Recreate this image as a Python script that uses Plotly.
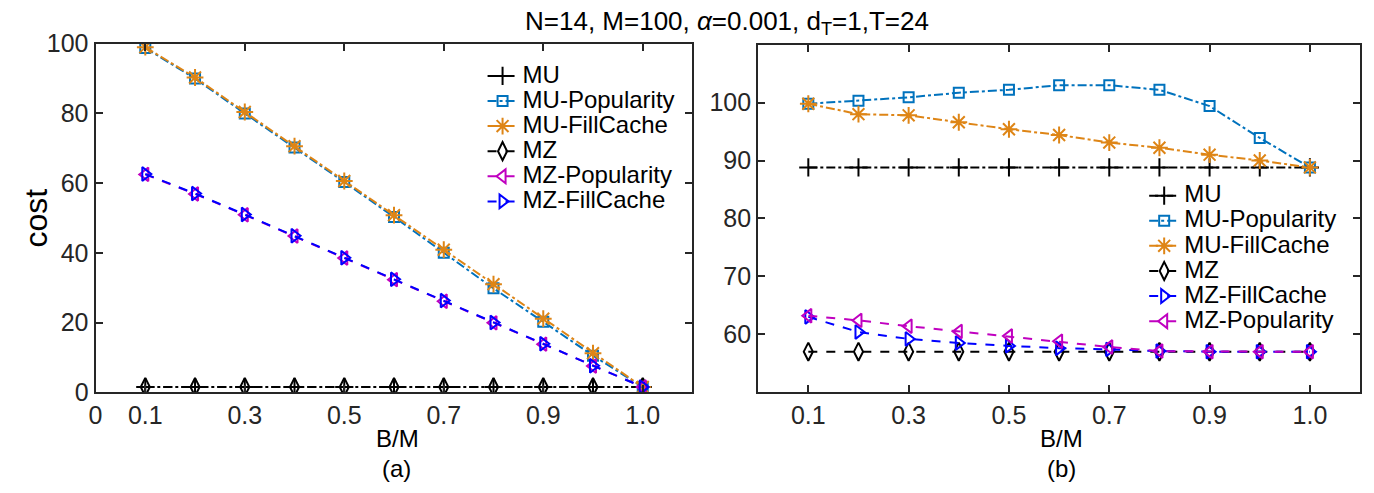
import plotly.graph_objects as go

# x positions (index along B/M) and tick labels
x_pos = [1, 2, 3, 4, 5, 6, 7, 8, 9, 10, 11]
ticks_a = [0, 1, 3, 5, 7, 9, 11]
labels_a = ["0", "0.1", "0.3", "0.5", "0.7", "0.9", "1.0"]
ticks_b = [1, 3, 5, 7, 9, 11]
labels_b = ["0.1", "0.3", "0.5", "0.7", "0.9", "1.0"]

# panel (a)
a_mu = [1.5, 1.5, 1.5, 1.5, 1.5, 1.5, 1.5, 1.5, 1.5, 1.5, 1.5]
a_mu_pop = [98.8, 90.0, 80.0, 70.2, 60.3, 50.3, 40.0, 29.8, 20.2, 10.5, 1.5]
a_mu_fill = [99.0, 90.3, 80.4, 70.6, 60.6, 50.8, 40.9, 31.0, 21.1, 11.2, 1.5]
a_mz = [1.5, 1.5, 1.5, 1.5, 1.5, 1.5, 1.5, 1.5, 1.5, 1.5, 1.5]
a_mz_pop = [62.5, 56.9, 50.9, 44.8, 38.5, 32.3, 26.1, 19.9, 13.8, 7.5, 1.5]
a_mz_fill = [62.6, 57.0, 51.0, 44.9, 38.6, 32.4, 26.3, 20.0, 13.9, 7.6, 1.5]

# panel (b)
b_mu = [88.8, 88.8, 88.8, 88.8, 88.8, 88.8, 88.8, 88.8, 88.8, 88.8, 88.8]
b_mu_pop = [99.8, 100.3, 100.9, 101.7, 102.2, 103.0, 103.0, 102.2, 99.4, 93.9, 88.8]
b_mu_fill = [99.8, 98.0, 97.8, 96.6, 95.4, 94.4, 93.1, 92.2, 91.0, 90.0, 88.8]
b_mz = [57.0, 57.0, 57.0, 57.0, 57.0, 57.0, 57.0, 57.0, 57.0, 57.0, 57.0]
b_mz_fill = [63.0, 60.4, 59.2, 58.5, 58.0, 57.6, 57.4, 57.1, 57.0, 57.0, 57.0]
b_mz_pop = [63.2, 62.4, 61.4, 60.5, 59.7, 58.8, 57.8, 57.1, 57.0, 57.0, 57.0]

FONT = "Liberation Sans, Arial, sans-serif"
BLACK = "#000000"
BLUE = "#0072BD"
ORANGE = "#DE8516"
MAGENTA = "#C000C0"
PURE_BLUE = "#0000FF"

STYLES = {
    "MU": dict(color=BLACK, dash="dashdot", symbol="cross-thin-open", size=13),
    "MU-Popularity": dict(color=BLUE, dash="dashdot", symbol="square-open", size=10),
    "MU-FillCache": dict(color=ORANGE, dash="dashdot", symbol="asterisk-open", size=14),
    "MZ": dict(color=BLACK, dash="dash", symbol="diamond-tall-open", size=13),
    "MZ-Popularity": dict(color=MAGENTA, dash="dash", symbol="triangle-left-open", size=12),
    "MZ-FillCache": dict(color=PURE_BLUE, dash="dash", symbol="triangle-right-open", size=12),
}


def add_series(fig, name, y, xaxis, yaxis, legend):
    s = STYLES[name]
    fig.add_trace(go.Scatter(
        x=x_pos, y=y, mode="lines+markers",
        name='<span style="font-size:24px">%s</span>' % name,
        xaxis=xaxis, yaxis=yaxis, legend=legend,
        line=dict(color=s["color"], dash=s["dash"], width=2),
        marker=dict(symbol=s["symbol"], size=s["size"], color=s["color"],
                    line=dict(color=s["color"], width=2)),
    ))


fig = go.Figure()
for name, y in [("MU", a_mu), ("MU-Popularity", a_mu_pop), ("MU-FillCache", a_mu_fill),
                ("MZ", a_mz), ("MZ-Popularity", a_mz_pop), ("MZ-FillCache", a_mz_fill)]:
    add_series(fig, name, y, "x", "y", "legend")
for name, y in [("MU", b_mu), ("MU-Popularity", b_mu_pop), ("MU-FillCache", b_mu_fill),
                ("MZ", b_mz), ("MZ-FillCache", b_mz_fill), ("MZ-Popularity", b_mz_pop)]:
    add_series(fig, name, y, "x2", "y2", "legend2")

axis_common = dict(
    showline=True, linecolor="#262626", linewidth=2, mirror="ticks",
    ticks="inside", ticklen=7, tickwidth=2, tickcolor="#262626",
    showgrid=False, zeroline=False,
    tickfont=dict(family=FONT, size=25, color="#262626"),
)

W, H = 1374, 493
fig.update_layout(
    width=W, height=H,
    margin=dict(l=0, r=0, t=0, b=0),
    paper_bgcolor="white", plot_bgcolor="white",
    font=dict(family=FONT, color="#000000"),
    showlegend=True,
    xaxis=dict(domain=[89 / W, 689 / W], range=[0, 12], tickvals=ticks_a,
               ticktext=labels_a, anchor="y", **axis_common),
    yaxis=dict(domain=[1 - 401 / H, 1 - 31.5 / H], range=[0, 100], dtick=20,
               anchor="x", **axis_common),
    xaxis2=dict(domain=[755 / W, 1360 / W], range=[0, 12], tickvals=ticks_b,
                ticktext=labels_b, anchor="y2", **axis_common),
    yaxis2=dict(domain=[1 - 401 / H, 1 - 32.5 / H], range=[50, 110],
                tickvals=[60, 70, 80, 90, 100], anchor="x2", **axis_common),
    legend=dict(x=478 / W, y=1 - 47 / H, xanchor="left", yanchor="top",
                bgcolor="rgba(255,255,255,0)", font=dict(family=FONT, size=17),
                itemwidth=30, tracegroupgap=0),
    legend2=dict(x=1143 / W, y=1 - 174 / H, xanchor="left", yanchor="top",
                 bgcolor="rgba(255,255,255,0)", font=dict(family=FONT, size=17),
                 itemwidth=30, tracegroupgap=0),
)

annotations = [
    dict(text="N=14, M=100, <i>α</i>=0.001, d<sub>T</sub>=1,T=24", x=724 / W, y=1 - 9 / H,
         size=26),
    dict(text="cost", x=29 / W, y=1 - 216 / H, textangle=-90, size=32),
    dict(text="B/M", x=393 / W, y=1 - 450 / H, size=24),
    dict(text="(a)", x=391 / W, y=1 - 482 / H, size=24),
    dict(text="B/M", x=1060 / W, y=1 - 450 / H, size=24),
    dict(text="(b)", x=1060 / W, y=1 - 482 / H, size=24),
]
for a in annotations:
    fig.add_annotation(xref="paper", yref="paper", showarrow=False,
                       xanchor="center", yanchor="middle",
                       font=dict(family=FONT, color="#000000", size=a["size"]),
                       text=a["text"], x=a["x"], y=a["y"],
                       textangle=a.get("textangle", 0))

fig.write_html("out.html", config={"displayModeBar": False},
               post_script="document.body.style.margin = '0';")
